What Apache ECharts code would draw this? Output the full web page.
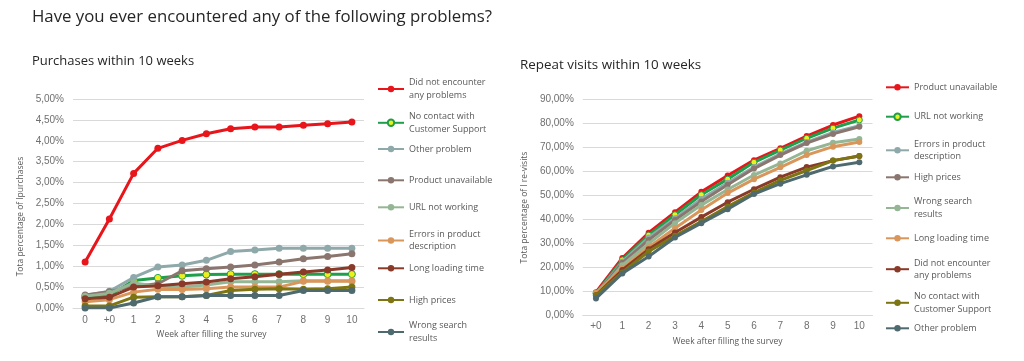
<!DOCTYPE html>
<html><head><meta charset="utf-8">
<script src="https://cdn.jsdelivr.net/npm/echarts@6/dist/echarts.min.js"></script>
<style>
body{margin:0;background:#fff;}
#a{position:absolute;left:0;top:0;width:512px;height:361px;}
#b{position:absolute;left:512px;top:0;width:512px;height:361px;}
</style>
</head><body><div id="a"></div><div id="b"></div>
<script>
// ---------- DATA ----------
const mainTitle = "Have you ever encountered any of the following problems?";
const leftTitle = "Purchases within 10 weeks";
const rightTitle = "Repeat visits within 10 weeks";
const xAxisTitle = "Week after filling the survey";
const leftYTitle = "Tota percentage of lpurchases";
const rightYTitle = "Tota percentage of l re-visits";

const purchaseWeeks = ["0","+0","1","2","3","4","5","6","7","8","9","10"];
const purchaseNames = ["Did not encounter any problems","No contact with Customer Support","Other problem","Product unavailable","URL not working","Errors in product description","Long loading time","High prices","Wrong search results"];
const purchaseNoProblems   = [1.10, 2.13, 3.22, 3.82, 4.01, 4.17, 4.29, 4.33, 4.33, 4.37, 4.41, 4.45];
const purchaseNoContact    = [0.26, 0.30, 0.66, 0.72, 0.77, 0.80, 0.81, 0.81, 0.81, 0.81, 0.81, 0.81];
const purchaseOther        = [0.30, 0.40, 0.73, 0.98, 1.03, 1.14, 1.35, 1.39, 1.43, 1.43, 1.43, 1.43];
const purchaseUnavailable  = [0.31, 0.39, 0.52, 0.58, 0.89, 0.94, 0.98, 1.03, 1.10, 1.18, 1.23, 1.30];
const purchaseUrl          = [0.28, 0.35, 0.60, 0.52, 0.50, 0.55, 0.63, 0.63, 0.63, 0.65, 0.65, 0.65];
const purchaseErrors       = [0.15, 0.20, 0.38, 0.45, 0.44, 0.46, 0.50, 0.50, 0.50, 0.64, 0.64, 0.64];
const purchaseLoading      = [0.22, 0.26, 0.50, 0.53, 0.58, 0.62, 0.70, 0.75, 0.81, 0.86, 0.91, 0.97];
const purchasePrices       = [0.05, 0.05, 0.26, 0.27, 0.27, 0.30, 0.42, 0.45, 0.46, 0.45, 0.46, 0.50];
const purchaseSearch       = [0.00, 0.00, 0.12, 0.27, 0.27, 0.30, 0.30, 0.30, 0.30, 0.42, 0.42, 0.42];

const revisitWeeks = ["+0","1","2","3","4","5","6","7","8","9","10"];
const revisitNames = ["Product unavailable","URL not working","Errors in product description","High prices","Wrong search results","Long loading time","Did not encounter any problems","No contact with Customer Support","Other problem"];
const revisitUnavailable = [9.8, 24.0, 34.5, 43.0, 51.5, 58.3, 64.7, 69.6, 74.7, 79.3, 83.0];
const revisitUrl         = [9.3, 23.2, 33.5, 42.0, 50.3, 56.8, 63.8, 68.9, 73.8, 78.0, 81.4];
const revisitErrors      = [8.8, 22.5, 32.5, 40.5, 48.5, 55.3, 61.8, 67.3, 72.2, 76.2, 79.0];
const revisitPrices      = [8.5, 22.0, 31.5, 39.8, 47.5, 54.5, 61.2, 66.8, 71.8, 75.6, 78.6];
const revisitSearch      = [8.3, 21.0, 30.0, 38.5, 46.0, 52.5, 58.5, 63.3, 68.6, 71.9, 73.5];
const revisitLoading     = [9.5, 19.7, 28.5, 36.4, 44.0, 51.0, 56.8, 61.7, 66.8, 70.3, 72.2];
const revisitNoProblems  = [8.5, 19.0, 27.6, 34.6, 41.0, 47.2, 52.6, 57.6, 61.8, 64.5, 66.4];
const revisitNoContact   = [8.5, 18.0, 26.7, 33.2, 39.2, 45.4, 51.2, 56.3, 60.4, 64.5, 66.4];
const revisitOther       = [7.2, 17.6, 24.6, 32.5, 38.5, 44.3, 50.6, 54.9, 58.6, 62.1, 63.8];

const wrapLabels = {
  "Did not encounter any problems": "Did not encounter\nany problems",
  "No contact with Customer Support": "No contact with\nCustomer Support",
  "Errors in product description": "Errors in product\ndescription",
  "Wrong search results": "Wrong search\nresults"
};

// ---------- STYLE ----------
const palette = ['#e8151b','#1f9e4b','#8fa9ab','#8b766f','#94b694','#d9965a','#8a3a28','#7d7412','#4e6a6e'];
const markerYellow = '#eef01e';
const tickFont = {fontFamily:'Liberation Sans, Arial, sans-serif', fontSize:10, color:'#6f6f6f'};
const textFont = 'Open Sans, sans-serif';
const LH = 12.3;

function pct(v){ return v.toFixed(2).replace('.', ',') + '%'; }

function makeSeries(names, dataList, lineW, symSize){
  return names.map((n,i)=>({
    name:n, type:'line', data:dataList[i],
    symbol:'circle', symbolSize:symSize, showSymbol:true,
    lineStyle:{width:lineW, color:palette[i]},
    itemStyle: i===1 ? {color:markerYellow, borderColor:palette[i], borderWidth:1} : {color:palette[i]},
    emphasis:{disabled:true}, silent:true, z:2+i
  }));
}

function makeLegends(names, left, centers, itemWidth){
  return names.map((n,i)=>{
    const lines = wrapLabels[n] ? 2 : 1;
    return {
      data:[n], orient:'vertical', left:left, top: centers[i] - lines*LH/2,
      padding:0, itemWidth:itemWidth, itemHeight:8, selectedMode:false,
      formatter: name => wrapLabels[name] || name,
      textStyle:{fontFamily:textFont, fontSize:9, color:'#595959', lineHeight:LH}
    };
  });
}

function axes(cats, max, interval, yName, yGap, yPad, xGap, xPad){
  return {
    xAxis:{type:'category', data:cats, boundaryGap:true,
      axisLine:{show:true, lineStyle:{color:'#d9d9d9'}}, axisTick:{show:false},
      axisLabel:Object.assign({margin:7}, tickFont),
      name:xAxisTitle, nameLocation:'middle', nameGap:xGap,
      nameTextStyle:{fontFamily:textFont, fontSize:8.5, color:'#595959', padding:xPad}},
    yAxis:{type:'value', min:0, max:max, interval:interval,
      axisLine:{show:false}, axisTick:{show:false},
      splitLine:{lineStyle:{color:'#d9d9d9', width:1}},
      axisLabel:Object.assign({margin:9, formatter:pct}, tickFont),
      name:yName, nameLocation:'middle', nameGap:yGap, nameRotate:90,
      nameTextStyle:{fontFamily:textFont, fontSize:8.5, color:'#595959', padding:yPad}}
  };
}

// ---------- LEFT CHART ----------
const chartA = echarts.init(document.getElementById('a'), null, {renderer:'canvas'});
const axA = axes(purchaseWeeks, 5, 0.5, leftYTitle, 45, [0,26,0,0], 20, [0,14,0,0]);
chartA.setOption({
  animation:false,
  title:[
    {text:mainTitle, left:32, top:9, padding:0, textStyle:{fontFamily:textFont, fontSize:16.8, fontWeight:'normal', color:'#262626'}},
    {text:leftTitle, left:32, top:55, padding:0, textStyle:{fontFamily:textFont, fontSize:13, fontWeight:'normal', color:'#262626'}}
  ],
  grid:{left:73, right:148, top:99, bottom:53, containLabel:false},
  xAxis:axA.xAxis, yAxis:axA.yAxis,
  legend: makeLegends(purchaseNames, 377, [89, 122.8, 149, 180.3, 207.3, 240.5, 268.3, 300, 332], 26),
  series: makeSeries(purchaseNames, [purchaseNoProblems, purchaseNoContact, purchaseOther, purchaseUnavailable, purchaseUrl, purchaseErrors, purchaseLoading, purchasePrices, purchaseSearch], 3, 7)
});

// ---------- RIGHT CHART ----------
const chartB = echarts.init(document.getElementById('b'), null, {renderer:'canvas'});
const axB = axes(revisitWeeks, 90, 10, rightYTitle, 53, [0,0,0,0], 20, [0,0,0,0]);
axB.xAxis.axisLabel.margin = 6;
chartB.setOption({
  animation:false,
  title:[
    {text:rightTitle, left:8, top:59, padding:0, textStyle:{fontFamily:textFont, fontSize:13.4, fontWeight:'normal', color:'#262626'}}
  ],
  grid:{left:60.5, right:151.5, top:99.3, bottom:45.3, containLabel:false},
  xAxis:axB.xAxis, yAxis:axB.yAxis,
  legend: makeLegends(revisitNames, 373, [87.3, 116.7, 150.3, 177.3, 208, 238.3, 269.2, 302.8, 328.3], 23),
  series: makeSeries(revisitNames, [revisitUnavailable, revisitUrl, revisitErrors, revisitPrices, revisitSearch, revisitLoading, revisitNoProblems, revisitNoContact, revisitOther], 3, 6)
});
</script>
</body></html>
